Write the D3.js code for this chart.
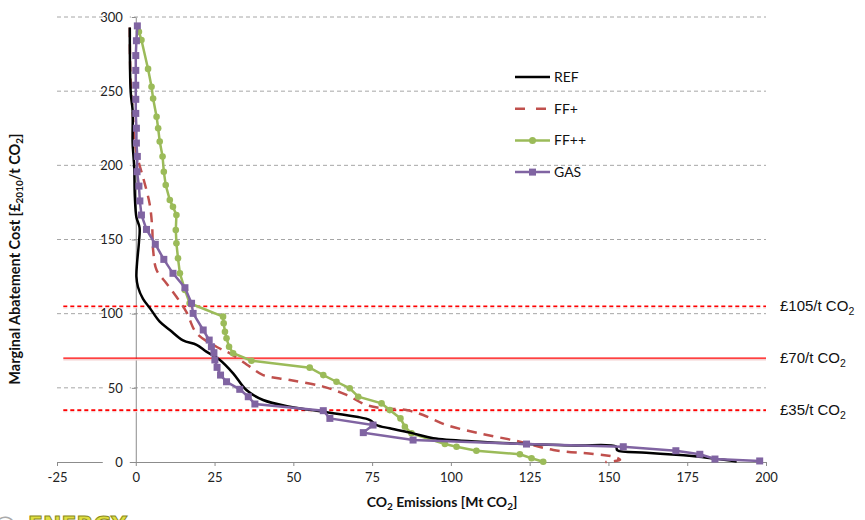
<!DOCTYPE html>
<html>
<head>
<meta charset="utf-8">
<script src="https://cdn.jsdelivr.net/npm/d3@7"></script>
<style>
  body { margin: 0; background: #fff; }
  svg { display: block; }
</style>
</head>
<body>
<div id="chart"></div>
<script>
// series: [emissions Mt CO2, marginal cost £/t]
const REF = [[-1.9,293],[-1.6,249],[-1.0,237],[-1.0,215],[-0.5,199],[-0.3,179],[0.2,165],[1.2,158],[1.0,148],
  [0.4,134],[0.2,125],[0.7,118],[2.3,110],[4.4,104],[7.6,94.6],[10.8,89],[15,82],[19.3,79],[22.4,74.4],[26.7,68.8],
  [30.9,59.8],[35.1,48.5],[40.4,41.8],[48.9,37.3],[59.5,33.9],[70.1,30.5],[74.3,28.3],[76.4,24.9],[80.6,22.7],
  [88,19.3],[94.4,16],[109.2,13.7],[124,12.1],[140,11.2],[152.4,10.4],[152.8,7.9],[162,6.3],[172.7,4.7],[178.7,3.6],[190.7,0.4]];
const FFP = [[-1.9,293],[-1.7,260],[-1.0,237],[-0.3,215],[0.7,204],[2.3,192],[4.4,174],[5.2,158.6],[5.5,143],
  [6.6,129.4],[9.7,120.5],[12.9,111.4],[16.1,101],[19.3,86.8],[25.6,77.7],[29.8,73.3],[36.2,64.3],[40.4,58.6],
  [48.9,55.3],[59.5,50.8],[66.9,45.2],[73.2,38.4],[78.5,36.2],[85.9,35],[91.2,31.7],[98.6,24.9],[109.2,19.3],
  [121.9,13.7],[132.5,8.1],[145.2,5.4],[151.5,3.6],[153.7,1.5],[149,0]];
const FFPP = [[1.0,290],[1.8,284.5],[3.9,265],[5.0,253],[5.5,245],[6.6,232.8],[7.1,225],[7.6,216],[8.5,206],
  [8.9,195.7],[9.5,186.7],[10.8,176.6],[11.8,172],[12.9,166.5],[12.7,156.4],[12.9,147.4],[13.4,137.3],[14.0,127.2],
  [15.6,116],[17.1,107],[27.7,98],[27.9,93.5],[28.3,87.8],[28.8,83.4],[29.6,77.7],[30.9,73.3],[36.7,68.3],
  [55.2,63.6],[59.5,58.6],[63.7,54.1],[67.9,49.7],[70.6,44],[78,39.5],[80.6,35],[84,29.4],[85.4,23.8],[87.5,19.3],
  [98.1,12.1],[101.8,10.3],[108.1,7.6],[121.9,5.2],[125.6,2.5],[129.3,0.2]];
const GAS = [[0.5,294],[0.2,284],[0,274],[0,264],[0,254],[0,244.5],[0,235],[0.2,225],[0.2,215],[0.5,206],
  [0.4,195.7],[1.0,186],[1.3,176],[1.8,166.5],[3.4,156.8],[6.2,146.8],[8.9,136.6],[11.8,127.2],[15.6,117.5],
  [17.7,107],[18.2,100.2],[21.4,89],[23.3,82.2],[24.0,77.7],[24.8,73.7],[25.1,68.8],[25.8,63.8],[26.9,58.6],
  [28.8,54.1],[33.0,49],[35.7,44],[37.8,39.1],[59.5,34.6],[61.6,29.4],[75.3,24.9],[72.2,19.8],[88,14.8],
  [124,12.1],[154.7,10.3],[171.4,7.6],[179,5.2],[183.8,2.0],[198,0.7]];

const xTicks = [-25, 0, 25, 50, 75, 100, 125, 150, 175, 200];
const yTicks = [0, 50, 100, 150, 200, 250, 300];
const priceLines = [105, 70, 35];
const priceLabels = ['£105/t CO', '£70/t CO', '£35/t CO'];
const legendNames = ['REF', 'FF+', 'FF++', 'GAS'];

const width = 865, height = 520;
const svg = d3.create('svg').attr('width', width).attr('height', height);

const xScale = d3.scaleLinear().domain([-25, 200]).range([57, 766]);
const yScale = d3.scaleLinear().domain([0, 300]).range([462, 17]);
const font = 'Lato, "Open Sans", sans-serif';

// gridlines
svg.append('g').selectAll('line')
  .data(yTicks.filter(d => d > 0))
  .enter().append('line')
    .attr('x1', xScale(-25)).attr('x2', xScale(200))
    .attr('y1', d => yScale(d)).attr('y2', d => yScale(d))
    .attr('stroke', '#a6a6a6').attr('stroke-dasharray', '4,3').attr('stroke-width', 1);

// x axis at y = 0
const xAxis = svg.append('g')
  .attr('transform', `translate(0, ${yScale(0)})`)
  .call(d3.axisBottom(xScale).tickValues(xTicks).tickFormat(d => String(d)).tickSize(4).tickSizeOuter(0));
xAxis.select('.domain').attr('stroke', '#8c8c8c');
xAxis.selectAll('.tick line').attr('stroke', '#8c8c8c');
xAxis.selectAll('.tick text').attr('font-family', font).attr('font-size', 13).attr('fill', '#222').attr('dy', '1.0em');

// y axis at x = 0
const yAxis = svg.append('g')
  .attr('transform', `translate(${xScale(0)}, 0)`)
  .call(d3.axisLeft(yScale).tickValues(yTicks).tickSize(4).tickSizeOuter(0).tickPadding(9));
yAxis.select('.domain').attr('stroke', '#8c8c8c');
yAxis.selectAll('.tick line').attr('stroke', '#8c8c8c');
yAxis.selectAll('.tick text').attr('font-family', font).attr('font-size', 13).attr('fill', '#222');
yAxis.selectAll('.tick').insert('rect', 'text')
  .attr('x', -33).attr('y', -7).attr('width', 27).attr('height', 14).attr('fill', '#fff');

// price reference lines
const priceG = svg.append('g');
priceLines.forEach((p, i) => {
  priceG.append('line')
    .attr('x1', xScale(-23)).attr('x2', xScale(200))
    .attr('y1', yScale(p) + 1.5).attr('y2', yScale(p) + 1.5)
    .attr('stroke', '#f3d0d0').attr('stroke-width', 1.5)
    .attr('stroke-dasharray', p === 70 ? null : '4,3');
  priceG.append('line')
    .attr('x1', xScale(-23)).attr('x2', xScale(200))
    .attr('y1', yScale(p)).attr('y2', yScale(p))
    .attr('stroke', '#ff0000').attr('stroke-width', p === 70 ? 1.3 : 1.6)
    .attr('stroke-dasharray', p === 70 ? null : '4,3');
  const t = priceG.append('text')
    .attr('x', 780).attr('y', yScale(p) + 5)
    .attr('font-family', '"Liberation Sans", Arial, sans-serif').attr('font-size', 15).attr('fill', '#111')
    .text(priceLabels[i]);
  t.append('tspan').attr('font-size', 10.5).attr('dy', 4).text('2');
});

const px = d => xScale(d[0]), py = d => yScale(d[1]);
const smooth = d3.line().x(px).y(py).curve(d3.curveCatmullRom.alpha(0.5));
const straight = d3.line().x(px).y(py);

svg.append('path').datum(FFP).attr('d', smooth)
  .attr('fill', 'none').attr('stroke', '#c0504d').attr('stroke-width', 2.5).attr('stroke-dasharray', '10,7');
svg.append('path').datum(FFPP).attr('d', straight)
  .attr('fill', 'none').attr('stroke', '#9bbb59').attr('stroke-width', 2.5);
svg.append('g').selectAll('circle').data(FFPP).enter().append('circle')
  .attr('cx', px).attr('cy', py).attr('r', 3.3).attr('fill', '#9bbb59');
svg.append('path').datum(REF).attr('d', smooth)
  .attr('fill', 'none').attr('stroke', '#000').attr('stroke-width', 2.5);
svg.append('path').datum(GAS).attr('d', straight)
  .attr('fill', 'none').attr('stroke', '#8064a2').attr('stroke-width', 2.5);
svg.append('g').selectAll('rect').data(GAS).enter().append('rect')
  .attr('x', d => px(d) - 3.5).attr('y', d => py(d) - 3.5).attr('width', 7).attr('height', 7).attr('fill', '#8064a2');

// legend
const legend = svg.append('g').attr('transform', 'translate(515, 77)');
const lstyles = [
  {c: '#000', dash: null}, {c: '#c0504d', dash: '10,11'}, {c: '#9bbb59', dash: null, m: 'c'}, {c: '#8064a2', dash: null, m: 's'}
];
legendNames.forEach((n, i) => {
  const g = legend.append('g').attr('transform', `translate(0, ${i * 31.7})`);
  g.append('line').attr('x1', 0).attr('x2', 35).attr('stroke', lstyles[i].c).attr('stroke-width', 2.5)
    .attr('stroke-dasharray', lstyles[i].dash);
  if (lstyles[i].m === 'c') g.append('circle').attr('cx', 17.5).attr('r', 3.5).attr('fill', lstyles[i].c);
  if (lstyles[i].m === 's') g.append('rect').attr('x', 14).attr('y', -3.5).attr('width', 7).attr('height', 7).attr('fill', lstyles[i].c);
  g.append('text').attr('x', 39).attr('y', 5).attr('font-family', font).attr('font-size', 14).attr('fill', '#111').text(n);
});

// axis titles
const yt = svg.append('text')
  .attr('transform', 'translate(20, 259) rotate(-90)')
  .attr('text-anchor', 'middle').attr('font-family', font).attr('font-weight', 700).attr('font-size', 14.5).attr('fill', '#111')
  .text('Marginal Abatement Cost [£');
yt.append('tspan').attr('font-size', 10).attr('dy', 3).text('2010');
yt.append('tspan').attr('dy', -3).text('/t CO');
yt.append('tspan').attr('font-size', 10).attr('dy', 3).text('2');
yt.append('tspan').attr('dy', -3).text(']');

const xt = svg.append('text')
  .attr('x', 442).attr('y', 507)
  .attr('text-anchor', 'middle').attr('font-family', font).attr('font-weight', 700).attr('font-size', 14).attr('fill', '#111')
  .text('CO');
xt.append('tspan').attr('font-size', 10).attr('dy', 3).text('2');
xt.append('tspan').attr('dy', -3).text(' Emissions [Mt CO');
xt.append('tspan').attr('font-size', 10).attr('dy', 3).text('2');
xt.append('tspan').attr('dy', -3).text(']');

// logo, cut off at the bottom edge as in the source image
svg.append('text').attr('x', 28).attr('y', 532)
  .attr('font-family', '"DejaVu Sans", sans-serif').attr('font-weight', 700).attr('font-size', 22)
  .attr('fill', '#dede40').attr('stroke', '#8a8a20').attr('stroke-width', 1).text('ENERGY');
svg.append('text').attr('x', -6).attr('y', 532)
  .attr('font-family', '"DejaVu Sans", sans-serif').attr('font-size', 22).attr('fill', '#aaa').text('@');

document.getElementById('chart').appendChild(svg.node());
</script>
</body>
</html>
